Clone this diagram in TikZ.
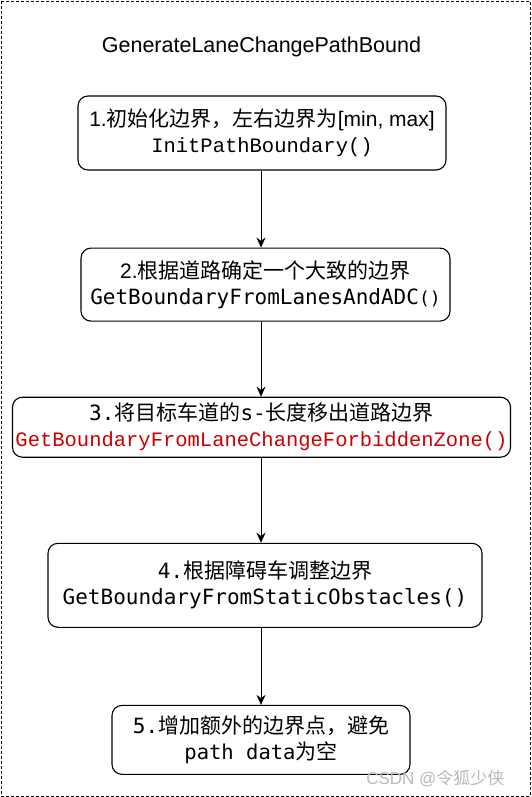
\documentclass[tikz,border=0pt]{standalone}
\usepackage{fontspec}
\setmainfont{Liberation Sans}
\newfontfamily\cjk{Noto Sans CJK SC}
\newfontfamily\cour{Liberation Mono}
\newfontfamily\djm{DejaVu Sans Mono}
\usetikzlibrary{positioning, arrows.meta}
\definecolor{codered}{RGB}{204,0,0}

\begin{document}
\begin{tikzpicture}[x=1pt, y=-1pt, node distance=76pt]
    \tikzset{
        stepbox/.style={rectangle, rounded corners=10pt, draw=black, line width=1.1pt,
                     align=center, inner sep=3pt, font=\fontsize{21}{26}\selectfont},
        arrow/.style={line width=0.8pt, -{Stealth[length=10pt, width=9pt]}}
    }
    \useasboundingbox (0,0) rectangle (531,797);
    \draw[line width=0.8pt, dash pattern=on 3pt off 2pt] (1,1) rectangle (530,796);
    \node[font=\fontsize{21.5}{24}\selectfont] (title) at (261.5,47) {GenerateLaneChangePathBound};
    \node[stepbox, minimum width=368pt, minimum height=74pt] (init) at (262,133)
        {1.{\cjk 初始化边界，左右边界为}[min, max]\\{\cour\fontsize{20.5}{26}\selectfont InitPathBoundary()}};
    \node[stepbox, minimum width=369pt, minimum height=73pt, below=77pt of init, xshift=3.5pt] (lanes)
        {2.{\cjk 根据道路确定一个大致的边界}\\{\djm\fontsize{21}{26}\selectfont GetBoundaryFromLanesAndADC{\fontsize{18}{26}\selectfont()}}};
    \node[stepbox, minimum width=491pt, minimum height=60pt, below=75pt of lanes, xshift=-4pt] (zone)
        {{\djm 3.}{\cjk 将目标车道的}{\djm s-}{\cjk 长度移出道路边界}\\{\cour\fontsize{20.5}{26}\selectfont\color{codered}GetBoundaryFromLaneChangeForbiddenZone()}};
    \node[stepbox, minimum width=434pt, minimum height=84pt, below=85pt of zone, xshift=3.5pt] (obst)
        {{\djm 4.}{\cjk 根据障碍车调整边界}\\{\djm\fontsize{21}{26}\selectfont GetBoundaryFromStaticObstacles()}};
    \node[stepbox, minimum width=298pt, minimum height=69pt, below=77pt of obst, xshift=-4pt] (extra)
        {{\djm 5.}{\cjk 增加额外的边界点，避免}\\{\djm\fontsize{20.5}{26}\selectfont path data}{\cjk 为空}};
    \node[text=gray!55, font=\fontsize{17}{20}\selectfont, anchor=east] (mark) at (508,778) {CSDN @{\cjk 令狐少侠}};
    \coordinate (ax) at (261,0);
    \draw[arrow] (init.south -| ax) -- (lanes.north -| ax);
    \draw[arrow] (lanes.south -| ax) -- (zone.north -| ax);
    \draw[arrow] (zone.south -| ax) -- (obst.north -| ax);
    \draw[arrow] (obst.south -| ax) -- (extra.north -| ax);
\end{tikzpicture}
\end{document}
